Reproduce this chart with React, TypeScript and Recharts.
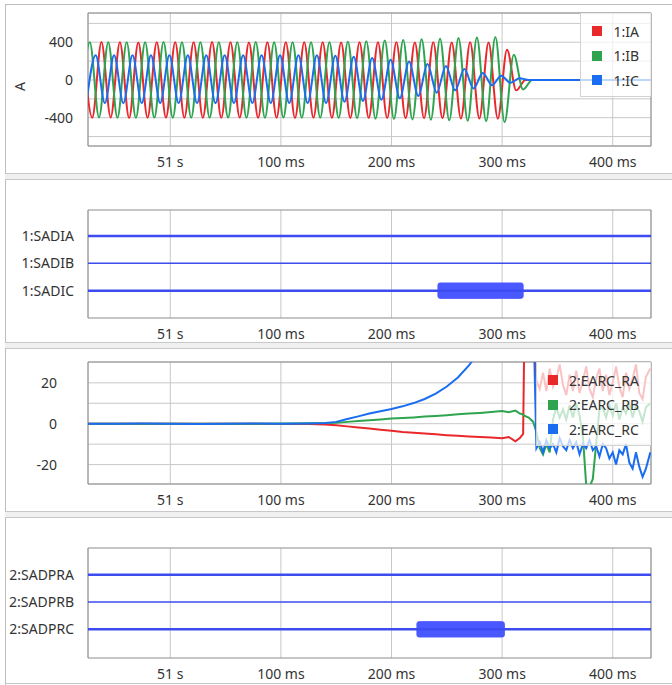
import React from "react";
import { LineChart, Line, XAxis, YAxis, CartesianGrid, ReferenceArea, Legend } from "recharts";

const FONT = '"Noto Sans", "Segoe UI", sans-serif';
const FONT_SIZE = 14;
const TEXT = "#333333";
const GRID = "#c8c8c8";
const FRAME = "#8c8c8c";
const DIGITAL = "#3c4cf0";
const BLOCK = "#4a58ff";

// time axis in ms after trigger (0 ms is shown as "51 s")
const X_DOMAIN: [number, number] = [-74.4, 434.6];
const X_TICKS = [0, 100, 200, 300, 400];
const X_LABELS = ["51 s", "100 ms", "200 ms", "300 ms", "400 ms"];

// phase currents, one value per half cycle (peaks and troughs, 60 Hz)
const HALF_CYCLE = 8.333;
const IA_T0 = -78.9;
const IB_T0 = -81.1;
const IC_T0 = -75.8;
const IA = [
  400, -400, 402, -398, 400, -402, 398, -400, 401, -399, 400, -401, 399, -400, 402, -400,
  400, -399, 398, -401, 400, -400, 401, -402, 399, -400, 400, -401, 398, -402, 400, -403,
  399, -404, 401, -405, 398, -406, 400, -406, 397, -408, 399, -408, 396, -410, 320, -110,
  0, 0, 0, 0, 0, 0, 0, 0, 0, 0, 0, 0, 0, 0, 0,
];
const IB = [
  -400, 400, -398, 401, -400, 399, -401, 400, -399, 402, -400, 400, -401, 399, -400, 401,
  -399, 400, -400, 402, -401, 400, -399, 401, -400, 400, -401, 400, -402, 405, -405, 410,
  -410, 418, -413, 425, -418, 432, -422, 438, -428, 444, -433, 450, -438, 456, -448, 267,
  -100, 0, 0, 0, 0, 0, 0, 0, 0, 0, 0, 0, 0, 0, 0,
];
const IC = [
  -245, 262, -245, 262, -246, 261, -245, 262, -244, 262, -245, 263, -245, 262, -246, 262,
  -245, 261, -245, 262, -244, 262, -245, 262, -245, 261, -245, 258, -232, 245, -222, 232,
  -210, 215, -195, 195, -170, 170, -135, 148, -110, 115, -90, 75, -55, 45, -30, 18,
  0, 0, 0, 0, 0, 0, 0, 0, 0, 0, 0, 0, 0, 0, 0,
];
const CURRENT_NAMES = ["1:IA", "1:IB", "1:IC"];
const I_TICKS = [-600, -400, -200, 0, 200, 400, 600];
const I_LABELED = [-400, 0, 400];

// arc estimates
const EARC_T = [
  -75, -50, -25, 0, 25, 50, 75, 100, 125, 140, 150, 160, 170, 180, 190, 200, 210, 220, 230,
  240, 250, 260, 270, 280, 290, 300, 306, 312, 316, 319, 320, 324, 328, 331, 334, 337, 340,
  343, 346, 349, 352, 355, 358, 361, 364, 367, 370, 373, 376, 379, 382, 385, 388, 391, 394,
  397, 400, 403, 406, 409, 412, 415, 418, 421, 424, 427, 430, 434,
];
const EARC_RA = [
  0, 0, 0, 0, 0, 0, 0, -0.1, -0.2, -0.4, -0.8, -1.3, -1.8, -2.3, -2.9, -3.4, -4.0, -4.4, -4.8,
  -5.2, -5.6, -5.9, -6.2, -6.5, -6.8, -7.1, -6.5, -8.6, -7.0, -5.0, 40, 45, 42, 21, 17, 25, 16,
  27, 18, 22, 29, 19, 14, 24, 16, 26, 15, 21, 28, 17, 13, 22, 27, 16, 24, 14, 20, 28, 18, 13,
  25, 17, 22, 29, 15, 12, 23, 27,
];
const EARC_RB = [
  0, 0, 0, 0, 0, 0, 0, 0.1, 0.2, 0.3, 0.5, 0.9, 1.3, 1.7, 2.1, 2.5, 2.8, 3.1, 3.5, 3.8, 4.2,
  4.6, 5.0, 5.3, 5.7, 6.2, 5.6, 6.4, 5.0, 4.5, 4.0, 3.0, 1.0, -4, -12, -15, -10, -14, 2, 8, 3,
  7, 2, 9, 3, 10, 4, -6, -30, -31, -27, -10, 7, 8, 3, 9, 4, 10, 2, 8, 5, 10, 3, 9, 6, 1, 8, 10,
];
const EARC_RC = [
  0, 0, 0.1, 0, -0.1, 0, 0.1, 0, 0.1, 0.3, 0.9, 2.3, 3.6, 5.0, 6.1, 7.2, 8.5, 10.1, 12.1, 14.7,
  18.2, 22.6, 28.5, 36, 45, 55, 60, 62, 64, 65, 66, 66, 60, -12, -9, -14, -8, -12, -10, -14,
  -7, -11, -13, -8, -12, -9, -15, -10, -12, -8, -13, -11, -16, -10, -12, -17, -14, -20, -13,
  -15, -10, -19, -22, -14, -21, -26, -22, -14,
];
const EARC_NAMES = ["2:EARC_RA", "2:EARC_RB", "2:EARC_RC"];
const E_TICKS = [-20, -10, 0, 10, 20];
const E_LABELED = [-20, 0, 20];

// digital channels: pickup intervals in ms
const CHANNEL_LEVELS = [3, 2, 1];
const SAD1_NAMES = ["1:SADIA", "1:SADIB", "1:SADIC"];
const SAD1_ON: ([number, number] | null)[] = [null, null, [242, 319]];
const SAD2_NAMES = ["2:SADPRA", "2:SADPRB", "2:SADPRC"];
const SAD2_ON: ([number, number] | null)[] = [null, null, [223, 302]];

const PHASE_COLORS = ["#e8282b", "#2ea44f", "#1a6cf0"];

const halfCycles = (t0: number, values: number[]) =>
  values.map((v, i) => ({ t: t0 + i * HALF_CYCLE, v }));
const earcRows = (values: number[]) => values.map((v, i) => ({ t: EARC_T[i], v }));

const tickStyle = { fill: TEXT, fontSize: FONT_SIZE, fontFamily: FONT };
const fmtTime = (v: number) => X_LABELS[X_TICKS.indexOf(v)] ?? "";

function SeriesLegend(props: any) {
  const items = props.payload || [];
  return (
    <div
      style={{
        background: "rgba(255,255,255,0.72)",
        borderLeft: "1px solid #d2d2d2",
        borderBottom: "1px solid #d2d2d2",
        padding: "6px 12px 3px 11px",
        fontFamily: FONT,
      }}
    >
      {items.map((item: any) => (
        <div key={item.value} style={{ display: "flex", alignItems: "center", height: 24.5 }}>
          <span style={{ width: 10, height: 10, background: item.color, marginRight: 11 }} />
          <span style={{ fontSize: FONT_SIZE, color: TEXT, whiteSpace: "nowrap" }}>{item.value}</span>
        </div>
      ))}
    </div>
  );
}

const unitLabel = (props: any) => {
  const vb = props.viewBox;
  const x = vb.x + 19;
  const y = vb.y + vb.height / 2 + 7;
  return (
    <text
      x={x}
      y={y}
      transform={`rotate(-90 ${x} ${y})`}
      textAnchor="middle"
      dominantBaseline="central"
      fill={TEXT}
      fontSize={FONT_SIZE}
      fontFamily={FONT}
    >
      A
    </text>
  );
};

function TimeAxis() {
  return (
    <XAxis
      type="number"
      dataKey="t"
      domain={X_DOMAIN}
      allowDataOverflow
      ticks={X_TICKS}
      interval={0}
      tickFormatter={fmtTime}
      tickLine={false}
      axisLine={false}
      tickSize={0}
      tickMargin={11}
      height={30}
      tick={tickStyle}
    />
  );
}

function DigitalChart(props: {
  names: string[];
  on: ([number, number] | null)[];
  top: number;
  height: number;
  marginTop: number;
  domain: [number, number];
}) {
  const { names, on, top, height, marginTop, domain } = props;
  return (
    <div style={{ position: "absolute", left: 0, top }}>
      <LineChart width={672} height={height} margin={{ top: marginTop, right: 21, bottom: 0, left: 0 }}>
        <CartesianGrid stroke={GRID} horizontal={false} />
        {TimeAxis()}
        <YAxis
          type="number"
          dataKey="v"
          domain={domain}
          allowDataOverflow
          ticks={CHANNEL_LEVELS}
          interval={0}
          tickFormatter={(v: number) => names[CHANNEL_LEVELS.indexOf(v)] ?? ""}
          width={88}
          tickLine={false}
          axisLine={false}
          tickSize={0}
          tickMargin={14}
          tick={tickStyle}
        />
        {names.map((name, i) => (
          <Line
            key={name}
            name={name}
            data={[
              { t: X_DOMAIN[0], v: CHANNEL_LEVELS[i] },
              { t: X_DOMAIN[1], v: CHANNEL_LEVELS[i] },
            ]}
            dataKey="v"
            type="linear"
            stroke={DIGITAL}
            strokeWidth={i === 1 ? 1.5 : 2.5}
            dot={false}
            isAnimationActive={false}
          />
        ))}
        {on.map((span, i) =>
          span ? (
            <ReferenceArea
              key={"on" + i}
              x1={span[0]}
              x2={span[1]}
              y1={CHANNEL_LEVELS[i] - 0.28}
              y2={CHANNEL_LEVELS[i] + 0.28}
              fill={BLOCK}
              fillOpacity={1}
              stroke={BLOCK}
              radius={2}
              ifOverflow="visible"
            />
          ) : null
        )}
        <ReferenceArea
          x1={X_DOMAIN[0]}
          x2={X_DOMAIN[1]}
          y1={domain[0]}
          y2={domain[1]}
          fill="none"
          stroke={FRAME}
          ifOverflow="visible"
        />
      </LineChart>
    </div>
  );
}

const SPLITTERS = [173, 342, 511];

export default function App() {
  const currents = [IA, IB, IC];
  const currentStarts = [IA_T0, IB_T0, IC_T0];
  const earc = [EARC_RA, EARC_RB, EARC_RC];
  const iDomain: [number, number] = [-700, 710];
  const eDomain: [number, number] = [-29.5, 30.2];

  return (
    <div
      style={{
        position: "absolute",
        left: 0,
        top: 0,
        width: 672,
        height: 685,
        background: "#ffffff",
        overflow: "hidden",
        fontFamily: FONT,
      }}
    >
      <div
        style={{
          position: "absolute",
          left: 5,
          top: 4,
          width: 667,
          height: 681,
          boxSizing: "border-box",
          borderTop: "1px solid #bdbdbd",
          borderLeft: "1px solid #bdbdbd",
        }}
      />
      {SPLITTERS.map((y) => (
        <div
          key={y}
          style={{
            position: "absolute",
            left: 5,
            top: y,
            width: 667,
            height: 7,
            boxSizing: "border-box",
            background: "#f0f0f0",
            borderTop: "1px solid #c8c8c8",
            borderBottom: "1px solid #c8c8c8",
          }}
        />
      ))}
      <div style={{ position: "absolute", left: 5, top: 683, width: 667, borderTop: "1px solid #c8c8c8" }} />

      {/* panel 1: phase currents */}
      <div style={{ position: "absolute", left: 0, top: 0 }}>
        <LineChart width={672} height={176} margin={{ top: 13, right: 21, bottom: 0, left: 0 }}>
          <CartesianGrid stroke={GRID} />
          {TimeAxis()}
          <YAxis
            type="number"
            dataKey="v"
            domain={iDomain}
            allowDataOverflow
            ticks={I_TICKS}
            interval={0}
            tickFormatter={(v: number) => (I_LABELED.includes(v) ? String(v) : "")}
            width={88}
            tickLine={false}
            axisLine={false}
            tickSize={0}
            tickMargin={15}
            tick={tickStyle}
            label={{ content: unitLabel }}
          />
          {currents.map((vals, i) => (
            <Line
              key={CURRENT_NAMES[i]}
              name={CURRENT_NAMES[i]}
              data={halfCycles(currentStarts[i], vals)}
              dataKey="v"
              type="monotone"
              stroke={PHASE_COLORS[i]}
              strokeWidth={2}
              dot={false}
              isAnimationActive={false}
            />
          ))}
          <ReferenceArea
            x1={X_DOMAIN[0]}
            x2={X_DOMAIN[1]}
            y1={iDomain[0]}
            y2={iDomain[1]}
            fill="none"
            stroke={FRAME}
            ifOverflow="visible"
          />
          <Legend
            layout="vertical"
            align="center"
            verticalAlign="middle"
            wrapperStyle={{ top: 13, right: 21 }}
            content={SeriesLegend}
          />
        </LineChart>
      </div>

      {/* panel 2: SADI flags */}
      <DigitalChart names={SAD1_NAMES} on={SAD1_ON} top={175} height={173} marginTop={35} domain={[0, 3.95]} />

      {/* panel 3: arc estimates */}
      <div style={{ position: "absolute", left: 0, top: 345 }}>
        <LineChart width={672} height={169} margin={{ top: 17, right: 21, bottom: 0, left: 0 }}>
          <CartesianGrid stroke={GRID} />
          {TimeAxis()}
          <YAxis
            type="number"
            dataKey="v"
            domain={eDomain}
            allowDataOverflow
            ticks={E_TICKS}
            interval={0}
            tickFormatter={(v: number) => (E_LABELED.includes(v) ? String(v) : "")}
            width={88}
            tickLine={false}
            axisLine={false}
            tickSize={0}
            tickMargin={31}
            tick={tickStyle}
          />
          {earc.map((vals, i) => (
            <Line
              key={EARC_NAMES[i]}
              name={EARC_NAMES[i]}
              data={earcRows(vals)}
              dataKey="v"
              type="linear"
              stroke={PHASE_COLORS[i]}
              strokeWidth={2}
              dot={false}
              isAnimationActive={false}
            />
          ))}
          <ReferenceArea
            x1={X_DOMAIN[0]}
            x2={X_DOMAIN[1]}
            y1={eDomain[0]}
            y2={eDomain[1]}
            fill="none"
            stroke={FRAME}
            ifOverflow="visible"
          />
          <Legend
            layout="vertical"
            align="center"
            verticalAlign="middle"
            wrapperStyle={{ top: 17, right: 21 }}
            content={SeriesLegend}
          />
        </LineChart>
      </div>

      {/* panel 4: SADPR flags */}
      <DigitalChart names={SAD2_NAMES} on={SAD2_ON} top={515} height={173} marginTop={33} domain={[-0.05, 3.98]} />
    </div>
  );
}
